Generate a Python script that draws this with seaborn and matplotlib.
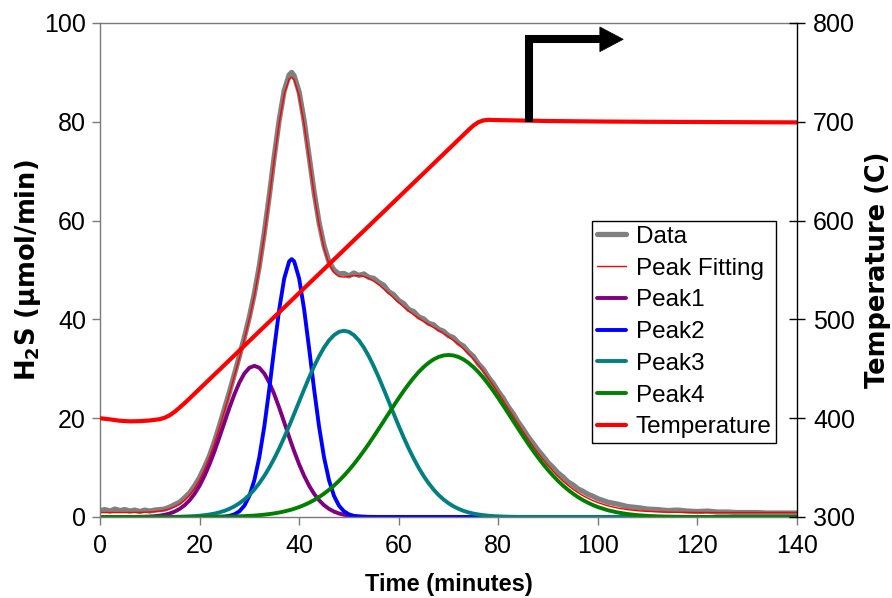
import matplotlib
matplotlib.use("Agg")
import matplotlib.pyplot as plt
import pandas as pd
import seaborn as sns
from matplotlib.lines import Line2D
from matplotlib.patches import Polygon

# Sampling grid (minutes) shared by the H2S curves
time_min = list(range(0, 39)) + [38.5] + list(range(39, 101)) + list(range(102, 141, 2))

# Measured H2S evolution rate (umol/min)
h2s_data = [
    1.3, 1.5, 1.2, 1.6, 1.3, 1.5, 1.2, 1.4, 1.1, 1.4,
    1.2, 1.4, 1.5, 1.6, 2.0, 2.5, 3.0, 3.9, 4.9, 6.3,
    8.0, 10.1, 12.4, 15.3, 18.5, 21.9, 25.3, 28.9, 32.6, 36.4,
    40.5, 45.2, 50.8, 57.5, 65.0, 73.0, 80.4, 86.3, 89.5,
    90.0,
    89.3, 86.0, 80.2, 73.0, 65.8, 59.6, 54.9, 51.6, 50.0, 49.2,
    49.3, 48.8, 49.4, 48.9, 49.2, 48.5, 48.3, 47.5, 46.9, 45.6,
    45.0, 43.8, 43.2, 42.0, 41.6, 40.5, 40.1, 39.2, 38.9, 38.0,
    37.6, 36.7, 36.3, 35.2, 34.6, 33.4, 32.5, 31.0, 29.9, 28.3,
    27.0, 25.4, 24.0, 22.3, 20.9, 19.2, 17.8, 16.2, 14.9, 13.5,
    12.3, 11.0, 10.0, 8.9, 8.1, 7.1, 6.5, 5.7, 5.2, 4.6,
    4.2, 3.7,
    3.0, 2.6, 2.1, 1.9, 1.6, 1.5, 1.3, 1.4, 1.2, 1.1,
    1.2, 1.0, 1.0, 0.9, 0.9, 0.9, 0.8, 0.8, 0.8, 0.8,
]

# Overall peak-fitting envelope
h2s_fit = [
    0.90, 0.90, 0.90, 0.90, 0.90, 0.90, 0.91, 0.92, 0.93, 0.96,
    1.00, 1.08, 1.19, 1.37, 1.64, 2.04, 2.60, 3.38, 4.43, 5.78,
    7.51, 9.63, 12.11, 14.94, 18.11, 21.46, 24.98, 28.56, 32.20, 35.97,
    40.09, 44.79, 50.40, 57.05, 64.58, 72.48, 79.85, 85.56, 88.65,
    88.98,
    88.52, 85.22, 79.53, 72.51, 65.39, 59.17, 54.40, 51.23, 49.46, 48.69,
    48.56, 48.69, 48.83, 48.86, 48.69, 48.29, 47.73, 47.01, 46.15, 45.25,
    44.33, 43.41, 42.52, 41.69, 40.93, 40.22, 39.56, 38.95, 38.36, 37.77,
    37.15, 36.49, 35.76, 34.96, 34.05, 33.05, 31.94, 30.75, 29.45, 28.06,
    26.60, 25.09, 23.53, 21.95, 20.36, 18.80, 17.25, 15.74, 14.29, 12.92,
    11.61, 10.39, 9.26, 8.21, 7.26, 6.40, 5.63, 4.93, 4.32, 3.79,
    3.32, 2.91,
    2.27, 1.81, 1.49, 1.27, 1.13, 1.04, 0.98, 0.95, 0.93, 0.91,
    0.90, 0.90, 0.90, 0.90, 0.90, 0.90, 0.90, 0.90, 0.90, 0.90,
]

peak1 = [
    0, 0, 0, 0, 0, 0, 0.01, 0.02, 0.03, 0.06,
    0.10, 0.17, 0.28, 0.45, 0.71, 1.10, 1.64, 2.39, 3.40, 4.70,
    6.34, 8.34, 10.67, 13.31, 16.18, 19.16, 22.11, 24.85, 27.22, 29.05,
    30.21, 30.60, 30.21, 29.05, 27.22, 24.85, 22.11, 19.16, 16.18,
    14.72,
    13.31, 10.67, 8.34, 6.34, 4.70, 3.40, 2.39, 1.64, 1.10, 0.71,
    0.45, 0.28, 0.17, 0.10, 0.06, 0.03, 0.02, 0.01, 0, 0,
    0, 0, 0, 0, 0, 0, 0, 0, 0, 0,
    0, 0, 0, 0, 0, 0, 0, 0, 0, 0,
    0, 0, 0, 0, 0, 0, 0, 0, 0, 0,
    0, 0, 0, 0, 0, 0, 0, 0, 0, 0,
    0, 0,
    0, 0, 0, 0, 0, 0, 0, 0, 0, 0,
    0, 0, 0, 0, 0, 0, 0, 0, 0, 0,
]

peak2 = [
    0, 0, 0, 0, 0, 0, 0, 0, 0, 0,
    0, 0, 0, 0, 0, 0, 0, 0, 0, 0,
    0, 0, 0, 0.01, 0.04, 0.09, 0.23, 0.54, 1.15, 2.29,
    4.28, 7.44, 12.08, 18.32, 25.89, 34.15, 42.04, 48.28, 51.75,
    52.20,
    51.75, 48.28, 42.04, 34.15, 25.89, 18.32, 12.08, 7.44, 4.28, 2.29,
    1.15, 0.54, 0.23, 0.09, 0.04, 0.01, 0, 0, 0, 0,
    0, 0, 0, 0, 0, 0, 0, 0, 0, 0,
    0, 0, 0, 0, 0, 0, 0, 0, 0, 0,
    0, 0, 0, 0, 0, 0, 0, 0, 0, 0,
    0, 0, 0, 0, 0, 0, 0, 0, 0, 0,
    0, 0,
    0, 0, 0, 0, 0, 0, 0, 0, 0, 0,
    0, 0, 0, 0, 0, 0, 0, 0, 0, 0,
]

peak3 = [
    0, 0, 0, 0, 0, 0, 0, 0, 0, 0,
    0, 0.01, 0.01, 0.02, 0.03, 0.04, 0.06, 0.09, 0.13, 0.18,
    0.26, 0.37, 0.51, 0.69, 0.94, 1.25, 1.66, 2.16, 2.79, 3.55,
    4.47, 5.56, 6.84, 8.31, 9.98, 11.85, 13.89, 16.10, 18.45,
    19.65,
    20.89, 23.36, 25.83, 28.23, 30.48, 32.52, 34.30, 35.75, 36.82, 37.48,
    37.70, 37.48, 36.82, 35.75, 34.30, 32.52, 30.48, 28.23, 25.83, 23.36,
    20.89, 18.45, 16.10, 13.89, 11.85, 9.98, 8.31, 6.84, 5.56, 4.47,
    3.55, 2.79, 2.16, 1.66, 1.25, 0.94, 0.69, 0.51, 0.37, 0.26,
    0.18, 0.13, 0.09, 0.06, 0.04, 0.03, 0.02, 0.01, 0.01, 0,
    0, 0, 0, 0, 0, 0, 0, 0, 0, 0,
    0, 0,
    0, 0, 0, 0, 0, 0, 0, 0, 0, 0,
    0, 0, 0, 0, 0, 0, 0, 0, 0, 0,
]

peak4 = [
    0, 0, 0, 0, 0, 0, 0, 0, 0, 0,
    0, 0, 0, 0, 0, 0, 0, 0, 0, 0,
    0.01, 0.02, 0.03, 0.03, 0.05, 0.06, 0.08, 0.11, 0.14, 0.18,
    0.23, 0.29, 0.37, 0.47, 0.59, 0.73, 0.91, 1.12, 1.37,
    1.51,
    1.67, 2.01, 2.42, 2.89, 3.42, 4.03, 4.73, 5.50, 6.36, 7.31,
    8.36, 9.49, 10.71, 12.02, 13.39, 14.83, 16.33, 17.87, 19.42, 20.99,
    22.54, 24.06, 25.52, 26.90, 28.18, 29.34, 30.35, 31.21, 31.90, 32.40,
    32.70, 32.80, 32.70, 32.40, 31.90, 31.21, 30.35, 29.34, 28.18, 26.90,
    25.52, 24.06, 22.54, 20.99, 19.42, 17.87, 16.33, 14.83, 13.39, 12.02,
    10.71, 9.49, 8.36, 7.31, 6.36, 5.50, 4.73, 4.03, 3.42, 2.89,
    2.42, 2.01,
    1.37, 0.91, 0.59, 0.37, 0.23, 0.14, 0.08, 0.05, 0.03, 0.01,
    0, 0, 0, 0, 0, 0, 0, 0, 0, 0,
]

# Furnace temperature programme (deg C)
temp_time = [0, 2, 4, 6, 8, 10, 12, 13, 14, 15, 16, 17, 18, 20, 25, 30, 35, 40,
             45, 50, 55, 60, 65, 70, 74, 75, 76, 77, 78, 80, 90, 100, 110, 120,
             130, 140]
temp_c = [400.0, 398.8, 397.4, 396.8, 397.0, 397.7, 399.0, 400.5, 403.0, 406.5,
          410.8, 415.3, 420.0, 429.7, 453.9, 478.2, 502.4, 526.7, 550.9, 575.2,
          599.4, 623.7, 647.9, 672.2, 691.6, 696.2, 699.6, 701.4, 702.0, 701.7,
          700.8, 700.3, 700.0, 699.8, 699.6, 699.4]

# Bent arrow pointing to the isothermal hold (x in minutes, y in H2S units)
arrow_path_x = [86.1, 86.1, 100.6]
arrow_path_y = [80.0, 96.7, 96.7]
arrow_head_x = [100.4, 105.1, 100.4]
arrow_head_y = [99.2, 96.7, 94.2]

series_styles = [
    ("Data", "data", "#808080", 3.8),
    ("Peak Fitting", "fit", "#ff0000", 1.0),
    ("Peak1", "peak1", "#800080", 2.8),
    ("Peak2", "peak2", "#0000ff", 2.8),
    ("Peak3", "peak3", "#008080", 2.8),
    ("Peak4", "peak4", "#008000", 2.8),
]
temp_style = ("Temperature", "#ff0000", 3.0)

df = pd.DataFrame({
    "time": time_min,
    "data": h2s_data,
    "fit": h2s_fit,
    "peak1": peak1,
    "peak2": peak2,
    "peak3": peak3,
    "peak4": peak4,
})
df_temp = pd.DataFrame({"time": temp_time, "temp": temp_c})

sns.set_theme(style="white")
plt.rcParams["font.family"] = ["Liberation Sans", "DejaVu Sans"]
plt.rcParams["mathtext.fontset"] = "dejavusans"
plt.rcParams["mathtext.default"] = "bf"

TICK_FS = 18
XLABEL_FS = 17
YLABEL_FS = 18.5
LEG_FS = 17.5
WIDE = ["DejaVu Sans"]

fig = plt.figure(figsize=(8.92, 5.98), dpi=100)
ax = fig.add_axes([100 / 892, 1 - 517 / 598, 697 / 892, 494 / 598])
ax2 = ax.twinx()

for label, col, color, lw in series_styles:
    sns.lineplot(data=df, x="time", y=col, ax=ax, color=color, linewidth=lw,
                 legend=False, sort=False)

sns.lineplot(data=df_temp, x="time", y="temp", ax=ax2, color=temp_style[1],
             linewidth=temp_style[2], legend=False, sort=False)

# Bent arrow
ax2.plot(arrow_path_x, arrow_path_y, color="black", linewidth=5.8,
         solid_joinstyle="miter", solid_capstyle="butt",
         transform=ax.transData, zorder=6)
ax2.add_patch(Polygon(list(zip(arrow_head_x, arrow_head_y)), closed=True,
                      facecolor="black", edgecolor="black", linewidth=0.5,
                      transform=ax.transData, zorder=6))

# Axes ranges and ticks
ax.set_xlim(0, 140)
ax.set_ylim(0, 100)
ax.set_xticks(range(0, 141, 20))
ax.set_yticks(range(0, 101, 20))
ax2.set_ylim(300, 800)
ax2.set_yticks(range(300, 801, 100))

grey = "#7a7a7a"
for side in ["left", "bottom", "top"]:
    ax.spines[side].set_color(grey)
    ax.spines[side].set_linewidth(1.0)
ax.spines["right"].set_visible(False)
for side in ["left", "bottom", "top"]:
    ax2.spines[side].set_visible(False)
ax2.spines["right"].set_color("black")
ax2.spines["right"].set_linewidth(1.0)

ax.tick_params(axis="x", bottom=True, direction="out", length=6, width=1,
               color=grey, labelsize=TICK_FS, pad=6, labelcolor="black")
ax.tick_params(axis="y", left=True, direction="out", length=6, width=1,
               color=grey, labelsize=TICK_FS, pad=4, labelcolor="black")
ax2.tick_params(axis="y", right=True, direction="inout", length=11, width=1,
                color="black", labelsize=TICK_FS, pad=6, labelcolor="black")

ax.set_xlabel("Time (minutes)", fontsize=XLABEL_FS, fontweight="bold",
              labelpad=11, color="black")
ax.set_ylabel("H$_2$S (μmol/min)", fontsize=YLABEL_FS, fontweight="bold",
              family=WIDE, labelpad=1, color="black")
ax2.set_ylabel("Temperature (C)", fontsize=YLABEL_FS, fontweight="bold",
               family=WIDE, labelpad=7, color="black")

# Legend combining both axes
handles = [Line2D([], [], color=c, linewidth=lw) for _, _, c, lw in series_styles]
handles.append(Line2D([], [], color=temp_style[1], linewidth=temp_style[2]))
labels = [s[0] for s in series_styles] + [temp_style[0]]
leg = ax2.legend(handles, labels, loc="upper left",
                 bbox_to_anchor=(592 / 892, 1 - 221 / 598),
                 bbox_transform=fig.transFigure, frameon=True, fancybox=False,
                 edgecolor="black", framealpha=1, fontsize=LEG_FS,
                 labelcolor="black",
                 handlelength=1.2, handletextpad=0.4, labelspacing=0.40,
                 borderpad=0.2, borderaxespad=0)
leg.get_frame().set_linewidth(1.0)
leg.set_zorder(10)

fig.savefig("out.png", dpi=100)
